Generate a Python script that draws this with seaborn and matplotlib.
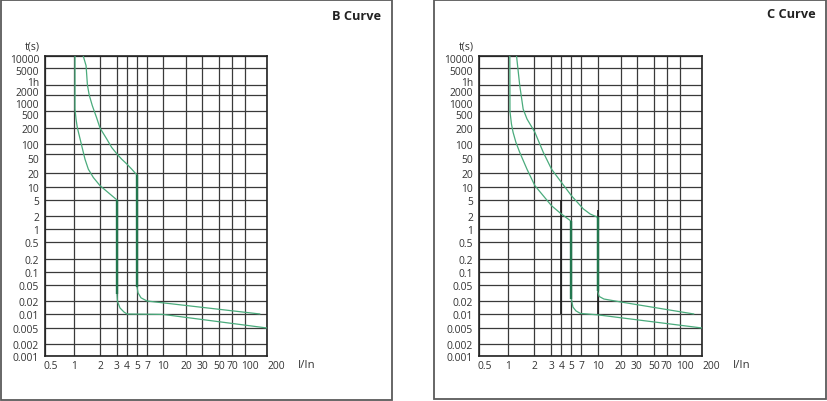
import numpy as np
import matplotlib
matplotlib.use("Agg")
import matplotlib.pyplot as plt
import seaborn as sns
from matplotlib.patches import Rectangle
from matplotlib.transforms import ScaledTranslation

# ---------------- data ----------------
X_TICKS = [0.5, 1, 2, 3, 4, 5, 7, 10, 20, 30, 50, 70, 100, 200]
X_LABELS = ["0.5", "1", "2", "3", "4", "5", "7", "10", "20", "30", "50", "70", "100", "200"]
Y_TICKS = [10000, 5000, 3600, 2000, 1000, 500, 200, 100, 50, 20, 10, 5, 2, 1,
           0.5, 0.2, 0.1, 0.05, 0.02, 0.01, 0.005, 0.002, 0.001]
Y_LABELS = ["10000", "5000", "1h", "2000", "1000", "500", "200", "100", "50", "20", "10",
            "5", "2", "1", "0.5", "0.2", "0.1", "0.05", "0.02", "0.01", "0.005", "0.002", "0.001"]

# B curve (min / max trip)
B_MIN_I = [1.027, 1.027, 1.055, 1.092, 1.152, 1.228, 1.34, 1.466, 1.675, 2.0, 3.0,
           3.0, 3.04, 3.27, 3.67, 4.0, 10.0, 200.0]
B_MIN_T = [10000, 590, 325, 205, 143, 89, 39, 24, 16, 10.7, 5.0,
           0.03, 0.0196, 0.0138, 0.0111, 0.01, 0.0098, 0.005]
B_MAX_I = [1.28, 1.38, 1.43, 1.50, 1.63, 1.82, 2.0, 2.35, 2.64, 3.0, 3.43, 3.97, 4.45, 5.0,
           5.0, 5.17, 5.72, 7.0, 160.0]
B_MAX_T = [10000, 5700, 3600, 2000, 790, 356, 200, 124, 79, 50, 39, 31, 24, 18,
           0.045, 0.032, 0.024, 0.02, 0.01]
B_VERT_I = [3.0, 5.0]
B_VERT_TOP = [5, 18]
B_VERT_BOT = [0.03, 0.045]

# C curve (min / max trip)
C_MIN_I = [1.046, 1.05, 1.092, 1.14, 1.228, 1.36, 1.65, 2.03, 3.02, 4.0, 5.0,
           5.0, 5.26, 5.82, 6.76, 10.0, 200.0]
C_MIN_T = [10000, 490, 248, 166, 108, 56, 24, 10.7, 3.6, 2.24, 1.5,
           0.022, 0.0145, 0.0118, 0.0103, 0.0096, 0.005]
C_MAX_I = [1.25, 1.36, 1.49, 1.65, 2.03, 2.48, 3.02, 4.0, 5.0, 7.3, 8.5, 10.0,
           10.0, 10.5, 12.1, 20.0, 155.0]
C_MAX_T = [10000, 3550, 590, 325, 166, 56, 24, 12.6, 6.3, 3.0, 2.24, 1.87,
           0.036, 0.026, 0.0224, 0.019, 0.01]
C_VERT_I = [5.0, 10.0]
C_VERT_TOP = [1.5, 1.87]
C_VERT_BOT = [0.022, 0.036]
C_MARK_I = [4.0, 10.0]
C_MARK_TOP = [5, 2.9]
C_MARK_BOT = [0.01, 0.01]

# ---------------- scale definitions (chart's non-uniform log grid) ----------------
X_SCALE_VAL = [0.5, 1, 2, 3, 4, 5, 7, 10, 20, 30, 50, 70, 100, 200]
X_SCALE_POS = [0, 29, 55, 72, 82, 92, 102, 118, 141, 157, 174, 187, 200, 222]
Y_SCALE_VAL = [0.001, 0.002, 0.005, 0.01, 0.02, 0.05, 0.1, 0.2, 0.5, 1, 2, 5, 10, 20,
               50, 100, 200, 500, 1000, 2000, 3600, 5000, 10000]
Y_SCALE_POS = [0, 12, 28, 42, 55, 71, 84, 97, 114, 127, 140, 156, 169, 183,
               202, 212, 228, 245, 253, 261, 271, 288, 300]


def make_scale(vals, pos):
    lv = np.log10(np.asarray(vals, float))
    p = np.asarray(pos, float)
    s_lo = (p[1] - p[0]) / (lv[1] - lv[0])
    s_hi = (p[-1] - p[-2]) / (lv[-1] - lv[-2])

    def fwd(v):
        v = np.asarray(v, float)
        shp = v.shape
        v = np.atleast_1d(v).ravel()
        l = np.log10(np.clip(v, 1e-12, None))
        out = np.interp(l, lv, p)
        lo = l < lv[0]
        hi = l > lv[-1]
        out[lo] = p[0] + (l[lo] - lv[0]) * s_lo
        out[hi] = p[-1] + (l[hi] - lv[-1]) * s_hi
        return out.reshape(shp)

    def inv(q):
        q = np.asarray(q, float)
        shp = q.shape
        q = np.atleast_1d(q).ravel()
        out = np.interp(q, p, lv)
        lo = q < p[0]
        hi = q > p[-1]
        out[lo] = lv[0] + (q[lo] - p[0]) / s_lo
        out[hi] = lv[-1] + (q[hi] - p[-1]) / s_hi
        return (10.0 ** out).reshape(shp)

    return fwd, inv


XF = make_scale(X_SCALE_VAL, X_SCALE_POS)
YF = make_scale(Y_SCALE_VAL, Y_SCALE_POS)

# ---------------- style ----------------
sns.set_style("white")
plt.rcParams["font.family"] = ["Open Sans", "DejaVu Sans"]

GREEN = "#4aab7c"
DKGREEN = "#23774f"
GRID = "#3a3a3a"
TXT = "#333333"

W, H = 827, 402
fig = plt.figure(figsize=(W / 100, H / 100), dpi=100)


def rect(x0, x1, y0, y1):
    return [x0 / W, 1 - y1 / H, (x1 - x0) / W, (y1 - y0) / H]


axL = fig.add_axes(rect(45, 267, 57, 357))
axR = fig.add_axes(rect(479, 702, 57, 357))

X_LABEL_SHIFT = {"0.5": (6, 0), "100": (5, 0), "200": (9, 0)}
Y_LABEL_SHIFT = {"1h": (0, 4), "2000": (0, 4), "500": (0, -3), "50": (0, -4),
                 "10000": (0, -2), "5000": (0, -2)}


def draw_panel(ax, curves, vert, marks=None):
    for xs, ts in curves:
        sns.lineplot(x=xs, y=ts, ax=ax, sort=False, estimator=None,
                     color=GREEN, linewidth=0.9, zorder=3)
    if marks is not None:
        ax.vlines(marks[0], marks[2], marks[1], color="#1a1a1a", linewidth=1.2, zorder=2.5)
    ax.vlines(vert[0], vert[2], vert[1], color=DKGREEN, linewidth=1.7, zorder=4)

    ax.set_xscale("function", functions=XF)
    ax.set_yscale("function", functions=YF)
    ax.set_xlim(0.5, 200)
    ax.set_ylim(0.001, 10000)
    ax.set_xticks(X_TICKS)
    ax.set_xticklabels(X_LABELS)
    ax.set_yticks(Y_TICKS)
    ax.set_yticklabels(Y_LABELS)
    ax.minorticks_off()
    ax.grid(True, color=GRID, linewidth=0.9)
    ax.set_axisbelow(True)
    gl = ax.yaxis.get_gridlines()
    gl[Y_TICKS.index(1000)].set_visible(False)
    ax.tick_params(length=0, labelsize=7.4, labelcolor=TXT)
    ax.tick_params(axis="y", pad=4.3)
    ax.tick_params(axis="x", pad=3.0)
    for sp in ax.spines.values():
        sp.set_visible(True)
        sp.set_color("#222222")
        sp.set_linewidth(1.2)
    ax.set_xlabel("")
    ax.set_ylabel("")
    for lab in ax.get_xticklabels():
        t = lab.get_text()
        if t in X_LABEL_SHIFT:
            dx, dy = X_LABEL_SHIFT[t]
            lab.set_transform(lab.get_transform() + ScaledTranslation(dx / 100, dy / 100, fig.dpi_scale_trans))
    for lab in ax.get_yticklabels():
        t = lab.get_text()
        if t in Y_LABEL_SHIFT:
            dx, dy = Y_LABEL_SHIFT[t]
            lab.set_transform(lab.get_transform() + ScaledTranslation(dx / 100, dy / 100, fig.dpi_scale_trans))
    ax.annotate("t(s)", xy=(0, 1), xycoords="axes fraction", xytext=(-13, 10),
                textcoords="offset pixels", ha="center", va="center", fontsize=7.6, color=TXT)
    ax.annotate("I/In", xy=(1, 0), xycoords="axes fraction", xytext=(40, -9),
                textcoords="offset pixels", ha="center", va="center", fontsize=8.2, color=TXT)


draw_panel(axL, [(B_MIN_I, B_MIN_T), (B_MAX_I, B_MAX_T)], (B_VERT_I, B_VERT_TOP, B_VERT_BOT))
draw_panel(axR, [(C_MIN_I, C_MIN_T), (C_MAX_I, C_MAX_T)], (C_VERT_I, C_VERT_TOP, C_VERT_BOT),
           marks=(C_MARK_I, C_MARK_TOP, C_MARK_BOT))

fig.text(357 / W, 1 - 16 / H, "B Curve", ha="center", va="center",
         fontsize=9.2, fontweight="bold", color="#222222")
fig.text(791 / W, 1 - 15 / H, "C Curve", ha="center", va="center",
         fontsize=9.2, fontweight="bold", color="#222222")

for (x0, x1, y0, y1) in [(1, 392, 1, 401), (434, 825.5, 1, 399.5)]:
    fig.patches.append(Rectangle((x0 / W, 1 - y1 / H), (x1 - x0) / W, (y1 - y0) / H,
                                 transform=fig.transFigure, fill=False,
                                 edgecolor="#5a5a5a", linewidth=1.3))

fig.savefig("out.png", dpi=100)
